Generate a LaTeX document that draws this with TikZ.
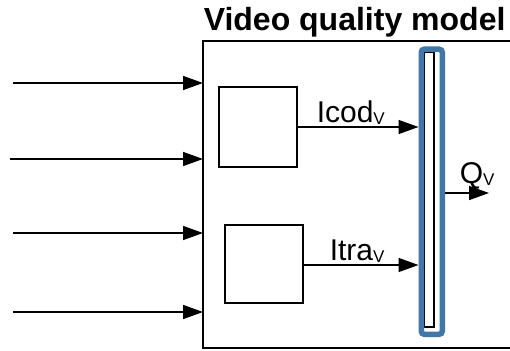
\documentclass[tikz,border=0pt]{standalone}
\usepackage{fontspec}
\setmainfont{Liberation Sans}
\usetikzlibrary{arrows.meta}
\definecolor{barblue}{RGB}{64,118,170}
\newcommand{\vsub}{\raisebox{-2.5pt}{\fontsize{17}{17}\selectfont V}}
\begin{document}
\begin{tikzpicture}[x=1pt,y=-1pt,
  line width=1.5pt,
  box/.style={draw, rectangle, inner sep=0pt, outer sep=0pt},
  flow/.style={-{Triangle[length=20pt,width=14pt]}},
  lbl/.style={inner sep=0pt, anchor=base west, font=\fontsize{30}{30}\selectfont}]
\useasboundingbox (0,0) rectangle (510,350);
\clip (0,0) rectangle (510,350);

% outer model block (continues past the right edge)
\node[box, minimum width=330pt, minimum height=307pt, anchor=north west] (model) at (203,41) {};
\node[anchor=base west, inner sep=0pt, font=\fontsize{32}{32}\selectfont\bfseries] (title) at (203,31) {Video quality model};

% inner blocks
\node[box, minimum width=78pt, minimum height=80pt, anchor=north west] (cod) at (219,87) {};
\node[box, minimum width=78pt, minimum height=78pt, anchor=north west] (tra) at (225,225) {};

% integration bar
\node[box, line width=1.2pt, minimum width=10pt, minimum height=275pt, anchor=north west] (bar) at (424,52) {};
\node[draw=barblue, line width=5.5pt, rounded corners=3pt, minimum width=21pt, minimum height=285pt, inner sep=0pt, anchor=north west] (barframe) at (418.5,46.5) {};

% inputs
\coordinate (in1) at (13,83);
\coordinate (in2) at (10,159);
\coordinate (in3) at (13,233);
\coordinate (in4) at (13,312);
\foreach \i in {1,2,3,4} \draw[flow] (in\i) -- (in\i -| model.west);

% internal flows
\coordinate (codout) at (cod.east |- 0,127);
\draw[flow] (codout) -- (codout -| barframe.west);
\node[lbl] (icod) at (316,122) {Icod\vsub};

\coordinate (traout) at (tra.east |- 0,265);
\draw[flow] (traout) -- (traout -| barframe.west);
\node[lbl] (itra) at (329,260) {Itra\vsub};

% output
\coordinate (qout) at (489,193);
\draw[flow] (barframe.east |- qout) -- (qout);
\node[lbl] (qv) at (459,183) {Q\vsub};
\end{tikzpicture}
\end{document}
